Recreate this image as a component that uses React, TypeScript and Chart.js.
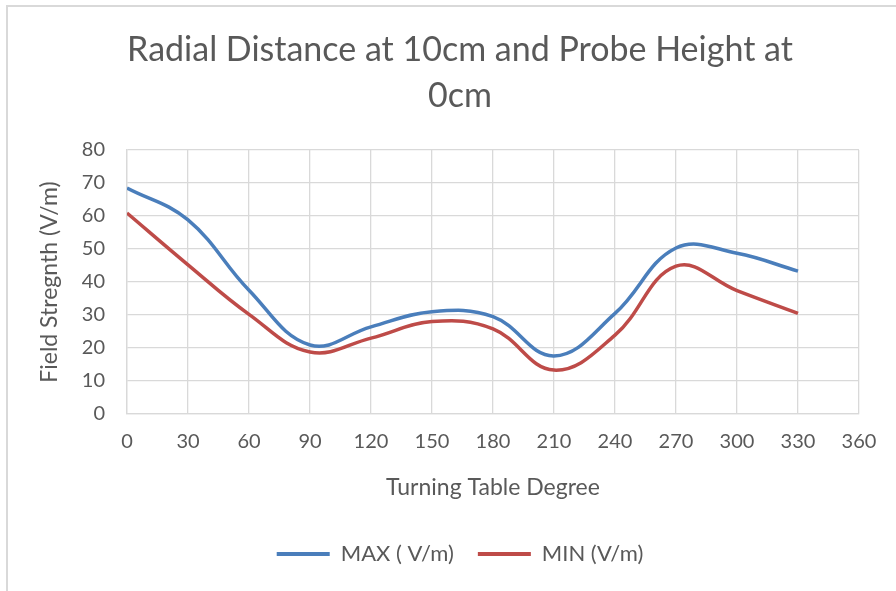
import React, { useEffect, useRef } from "react";
import { Chart, registerables } from "chart.js";

Chart.register(...registerables);

const degrees = [0, 30, 60, 90, 120, 150, 180, 210, 240, 270, 300, 330];
const maxValues = [68.5, 58.8, 37.5, 20.9, 26.4, 31.0, 29.5, 17.6, 30.5, 50.3, 48.7, 43.3];
const minValues = [60.9, 45.2, 30.2, 18.8, 23.0, 28.0, 25.8, 13.3, 23.9, 44.8, 37.4, 30.5];
const titleLines = ["Radial Distance at 10cm and Probe Height at", "0cm"];
const xTitle = "Turning Table Degree";
const yTitle = "Field Stregnth (V/m)";
const seriesNames = ["MAX ( V/m)", "MIN (V/m)"];

const FONT = "Lato, 'Open Sans', sans-serif";
const TEXT = "#595959";
const GRID = "#d9d9d9";
const BLUE = "#4a7ebb";
const RED = "#be4b48";

export default function App() {
  const ref = useRef<HTMLCanvasElement>(null);
  useEffect(() => {
    const prevMargin = document.body.style.margin;
    document.body.style.margin = "0";
    document.body.style.overflow = "hidden";
    const chart = new Chart(ref.current!, {
      type: "line",
      data: {
        datasets: [
          {
            label: seriesNames[0],
            data: degrees.map((d, i) => ({ x: d, y: maxValues[i] })),
            borderColor: BLUE,
            backgroundColor: BLUE,
            borderWidth: 3.5,
            pointRadius: 0,
            tension: 0.4,
            fill: false,
          },
          {
            label: seriesNames[1],
            data: degrees.map((d, i) => ({ x: d, y: minValues[i] })),
            borderColor: RED,
            backgroundColor: RED,
            borderWidth: 3.5,
            pointRadius: 0,
            tension: 0.4,
            fill: false,
          },
        ],
      },
      options: {
        animation: false,
        responsive: false,
        maintainAspectRatio: false,
        layout: { padding: { left: 61, right: 37, top: 0, bottom: 16 } },
        plugins: {
          title: {
            display: true,
            text: titleLines,
            color: TEXT,
            font: { family: FONT, size: 34, weight: "normal", lineHeight: 1.35 },
            padding: { top: 27, bottom: 31.2 },
          },
          legend: {
            position: "bottom",
            labels: {
              color: TEXT,
              font: { family: FONT, size: 22 },
              boxWidth: 53,
              boxHeight: 4,
              padding: 24,
              generateLabels: (c: any) => {
                const items = Chart.defaults.plugins.legend.labels.generateLabels(c);
                return items.map((it: any) => ({ ...it, lineWidth: 0 }));
              },
            },
          },
          tooltip: { enabled: false },
        },
        scales: {
          x: {
            type: "linear",
            min: 0,
            max: 360,
            ticks: { stepSize: 30, color: TEXT, font: { family: FONT, size: 20 }, padding: 16, maxRotation: 0 },
            grid: { color: GRID, lineWidth: 1.3, drawTicks: false },
            border: { color: GRID, width: 1.3 },
            title: { display: true, text: xTitle, color: TEXT, font: { family: FONT, size: 23 }, padding: { top: 10, bottom: 18 } },
            afterFit: (s: any) => {
              s.height = 105;
            },
          },
          y: {
            min: 0,
            max: 80,
            ticks: { stepSize: 10, color: TEXT, font: { family: FONT, size: 20 }, padding: 22 },
            grid: { color: GRID, lineWidth: 1.3, drawTicks: false },
            border: { color: GRID, width: 1.3 },
            title: { display: true, text: yTitle, color: TEXT, font: { family: FONT, size: 23 }, padding: { top: -25, bottom: 10 } },
            afterFit: (s: any) => {
              s.width = 66;
            },
          },
        },
      },
    } as any);
    return () => {
      chart.destroy();
      document.body.style.margin = prevMargin;
    };
  }, []);
  return (
    <div style={{ position: "fixed", left: 0, top: 0, width: 896, height: 591, overflow: "hidden", background: "#fff" }}>
      <div
        style={{
          position: "absolute",
          left: 6,
          top: 5,
          width: 920,
          height: 620,
          border: "2px solid #d9d9d9",
          boxSizing: "border-box",
        }}
      />
      <canvas ref={ref} width={896} height={591} style={{ position: "absolute", left: 0, top: 0, width: 896, height: 591 }} />
    </div>
  );
}
